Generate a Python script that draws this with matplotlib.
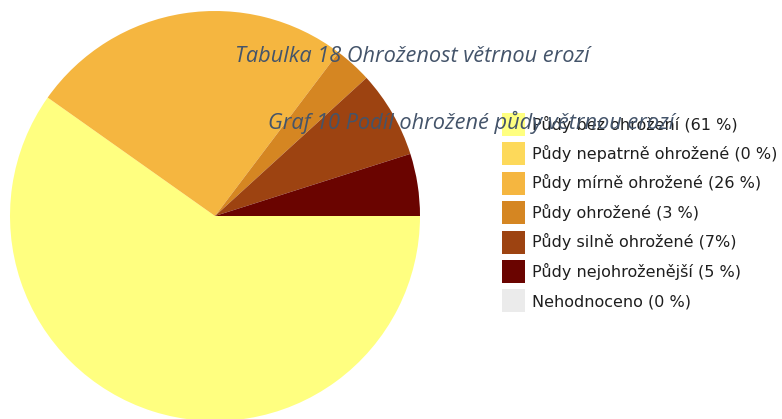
import matplotlib
matplotlib.use('Agg')
import matplotlib.pyplot as plt

LABELS = [
	"Půdy bez ohrožení (61 %)",
	"Půdy nepatrně ohrožené (0 %)",
	"Půdy mírně ohrožené (26 %)",
	"Půdy ohrožené (3 %)",
	"Půdy silně ohrožené (7%)",
	"Půdy nejohroženější (5 %)",
	"Nehodnoceno (0 %)",
]
VALUES = [61, 0, 26, 3, 7, 5, 0]
COLORS = ["#FFFF80", "#FDD95A", "#F5B640", "#D58622", "#9D4311", "#6A0400", "#EBEBEB"]

TITLE_1 = "Tabulka 18 Ohroženost větrnou erozí"
TITLE_2 = "Graf 10 Podíl ohrožené půdy větrnou erozí"

W, H = 782, 419
fig = plt.figure(figsize=(W / 100, H / 100), dpi=100)
ax = fig.add_axes([0, 0, 1, 1])

# pie sits in pixel space: centre (215, 216 from top), radius 205
wedges, _ = ax.pie(VALUES, colors=COLORS, startangle=0, counterclock=False,
	center=(215, H - 216), radius=205, wedgeprops={"linewidth": 0})
ax.set_xlim(0, W)
ax.set_ylim(0, H)
ax.set_aspect("equal")
ax.axis("off")

legend = fig.legend(wedges, LABELS, loc="upper left",
	bbox_to_anchor=(502 / W, 1 - 113 / H), frameon=False,
	borderpad=0, borderaxespad=0,
	handlelength=1.44, handleheight=1.84, handletextpad=0.44,
	labelspacing=0.40, prop={"family": "DejaVu Sans", "size": 11.5})
for text in legend.get_texts():
	text.set_color("#1E1E1E")

fig.text(235 / W, 1 - 57 / H, TITLE_1, fontsize=15.7, style="italic",
	family="Open Sans", color="#44546A", va="center", ha="left", zorder=6)
fig.text(268 / W, 1 - 122 / H, TITLE_2, fontsize=15.7, style="italic",
	family="Open Sans", color="#44546A", va="center", ha="left", zorder=6)

plt.savefig("out.png", dpi=100)
